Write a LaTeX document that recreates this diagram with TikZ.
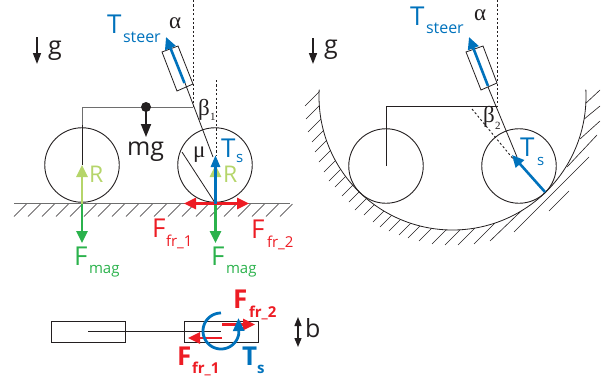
\documentclass[tikz,border=0pt]{standalone}
\usepackage{fontspec}
\setmainfont{Open Sans}
\newfontfamily\grk{Liberation Serif}
\usetikzlibrary{arrows.meta}
\definecolor{cblue}{RGB}{0,114,188}
\definecolor{cred}{RGB}{237,28,36}
\definecolor{cgreen}{RGB}{43,178,76}
\definecolor{clight}{RGB}{181,213,106}
\definecolor{cink}{RGB}{35,31,32}
\definecolor{cgray}{RGB}{110,110,110}
\tikzset{
  lbl/.style={anchor=base west,inner sep=0pt,outer sep=0pt},
  big/.style={lbl,font=\fontsize{26}{26}\selectfont},
  mid/.style={lbl,font=\fontsize{25}{25}\selectfont},
  rlbl/.style={lbl,font=\fontsize{23}{23}\selectfont},
  sub/.style={lbl,font=\fontsize{15}{15}\selectfont},
  steerlbl/.style={lbl,font=\fontsize{16}{16}\selectfont},
  bigb/.style={lbl,font=\fontsize{26}{26}\selectfont\bfseries},
  subb/.style={lbl,font=\fontsize{15}{15}\selectfont\bfseries},
  gr/.style={lbl,text=cink,font=\fontsize{23}{23}\selectfont\grk},
  grsub/.style={lbl,text=cink,font=\fontsize{11}{11}\selectfont\grk},
  wheel/.style={draw=cink,line width=0.9pt,circle,minimum size=74.5pt,inner sep=0pt,outer sep=0pt},
  box/.style={draw=cink,line width=0.8pt},
  thin line/.style={draw=cink,line width=0.8pt},
  dots/.style={draw=cink,line width=0.9pt,dash pattern=on 2.2pt off 2.2pt},
  hatch/.style={draw=cink,line width=0.6pt},
  force/.style={line width=2.6pt,-{Triangle[length=12pt,width=11pt]}},
  forceb/.style={line width=2.8pt,-{Triangle[length=13pt,width=11pt]}},
  gravity/.style={draw=cink,line width=1.6pt,-{Triangle[length=11pt,width=8pt]}},
}
\begin{document}
\begin{tikzpicture}[x=1pt,y=-1pt]
\useasboundingbox (0,0) rectangle (612,381);
% ---------- left view
\foreach \k in {0,...,19} {\draw[hatch] ({14+14*\k},216.5) -- ++(12.5,-12.5);}
\draw[draw=cgray,line width=1.5pt] (14,203.5) -- (290,203.5);
\node[wheel] (wl) at (82,165) {};
\node[wheel] (wr) at (215,165) {};
\coordinate (cl) at (82,203.5);
\coordinate (cr) at (215.5,203.5);
\coordinate (hub) at (193,107);
\coordinate (cg) at (146,107);
\coordinate (st1) at (213,157);
\coordinate (st2) at (185,83);
\draw[draw=cgray,line width=1pt] (wl.center) -- (82,107) -- (hub);
\draw[thin line] (wl.center) -- (82,125);
\draw[thin line] (st1) -- (st2);
\draw[thin line] (cr) -- (182,152);
\draw[box] (162,52) -- (178,46) -- (193,84) -- (177,91) -- cycle;
\draw[dots] (193,0) -- (hub);
\draw[dots] (216,80) -- (216,155);
\fill[cink] (cg) circle (5);
\draw[gravity,line width=1.8pt,-{Triangle[length=13pt,width=10pt]}] (cg) -- (146,137);
\draw[gravity] (37,37) -- (37,64);
\draw[force,cblue] (184.5,83) -- (166,37);
\draw[force,clight] (cl) -- (82,165);
\draw[force,cgreen] (cl) -- (82,243);
\draw[force,clight] (cr) -- (215.5,165);
\draw[force,cgreen] (cr) -- (215.5,243);
\draw[force,cred] (cr) -- (184,203.5);
\draw[force,cred] (cr) -- (249,203.5);
\draw[forceb,cblue,-{Triangle[length=12pt,width=9pt]}] (cr) -- (215.5,155);
\node[big,text=cblue] (t1) at (107,33) {T};
\node[steerlbl,text=cblue] (t1s) at (123,42) {steer};
\node[mid,text=cink] (g1) at (48,54) {g};
\node[gr] (a1) at (169,28) {α};
\node[gr] (b1) at (198,115) {β};
\node[grsub] (b1s) at (210,120) {1};
\node[gr] (m1) at (193,157) {μ};
\node[mid,text=cink] (mg) at (127,155) {mg};
\node[big,text=cblue] (ts1) at (221,157) {T};
\node[sub,text=cblue] (ts1s) at (236,162.5) {s};
\node[rlbl,text=clight] (r1) at (89,182) {R};
\node[rlbl,text=clight] (r2) at (223,182) {R};
\node[big,text=cgreen] (f1) at (74,265) {F};
\node[sub,text=cgreen] (f1s) at (89,273) {mag};
\node[big,text=cgreen] (f2) at (211,265) {F};
\node[sub,text=cgreen] (f2s) at (226,273) {mag};
\node[big,text=cred] (ff1) at (152,237) {F};
\node[sub,text=cred] (ff1s) at (166,246) {fr\_1};
\node[big,text=cred] (ff2) at (251,238) {F};
\node[sub,text=cred] (ff2s) at (267,247) {fr\_2};
% ---------- right view
\begin{scope}[even odd rule]
\clip (295,0) rectangle (612,260) (452.5,96.5) circle [radius=133.5];
\foreach \x/\y in {305/106,306/119,308/132,312/142,315/152,319/162,324/172,329/181,335/187,342/196,349/202,355/210,364/215,373/222,380/227,389/231,399/235,408/238,419/241,432/244,445/245,458/245,474/244}
  {\draw[hatch] (\x,\y) -- ++(24,-24);}
\draw[hatch] (490,241) -- (543,190);
\draw[hatch] (514,232) -- (589,157);
\draw[hatch] (549,211) -- (569,191);
\draw[hatch] (567,167) -- (597,135);
\draw[hatch] (580,139) -- (600,121);
\draw[hatch] (583,120) -- (600,106);
\draw[hatch] (585,104) -- (600,90);
\end{scope}
\draw[draw=cink,line width=0.8pt,smooth] plot[domain=-3:183,samples=90] ({452.5+133.5*cos(\x)},{96.5+133.5*sin(\x)});
\node[wheel] (wl2) at (386,166) {};
\node[wheel] (wr2) at (519,166) {};
\coordinate (hub2) at (497,106);
\coordinate (st3) at (517,157);
\coordinate (st4) at (488,87);
\draw[thin line] (wl2.center) -- (386,106) -- (hub2);
\draw[thin line] (st3) -- (st4);
\draw[box] (466,52) -- (483,46) -- (497,83) -- (481,90) -- cycle;
\draw[dots] (497,0) -- (hub2);
\draw[dots] (472,109) -- (wr2.center);
\draw[gravity] (313,38) -- (313,64);
\draw[force,cblue] (488,86) -- (469,37);
\draw[force,cblue] (545,192) -- (512,155);
\node[big,text=cblue] (t2) at (410,25) {T};
\node[steerlbl,text=cblue] (t2s) at (426,33) {steer};
\node[mid,text=cink] (g2) at (324,53) {g};
\node[gr] (a2) at (474,20) {α};
\node[gr] (b2) at (483,122) {β};
\node[grsub] (b2s) at (495,129) {2};
\node[big,text=cblue] (ts2) at (520,156) {T};
\node[sub,text=cblue] (ts2s) at (537,165) {s};
% ---------- top view
\node[box,draw,minimum width=74pt,minimum height=21pt,inner sep=0pt] (r1b) at (88,331.5) {};
\node[box,draw,minimum width=74pt,minimum height=21pt,inner sep=0pt] (r2b) at (221,331.5) {};
\draw[thin line] (r1b.center) -- (r2b.center);
\draw[force,cred] (222,324.5) -- (255,324.5);
\draw[force,cred] (222,338) -- (188,338);
\draw[forceb,cblue] plot[domain=90:350,samples=60,smooth] ({221+18*cos(\x)},{331-18*sin(\x)}) -- (238.5,318);
\draw[gravity,line width=1.3pt,{Triangle[length=9pt,width=7pt]}-{Triangle[length=9pt,width=7pt]}] (298,317) -- (298,347);
\node[bigb,text=cred] (fb2) at (233,308) {F};
\node[subb,text=cred] (fb2s) at (249,317) {fr\_2};
\node[bigb,text=cred] (fb1) at (177,365) {F};
\node[subb,text=cred] (fb1s) at (192,373) {fr\_1};
\node[bigb,text=cblue] (tb) at (242,365) {T};
\node[subb,text=cblue] (tbs) at (257,373) {s};
\node[mid,text=cink] (b) at (305,337) {b};
\end{tikzpicture}
\end{document}
